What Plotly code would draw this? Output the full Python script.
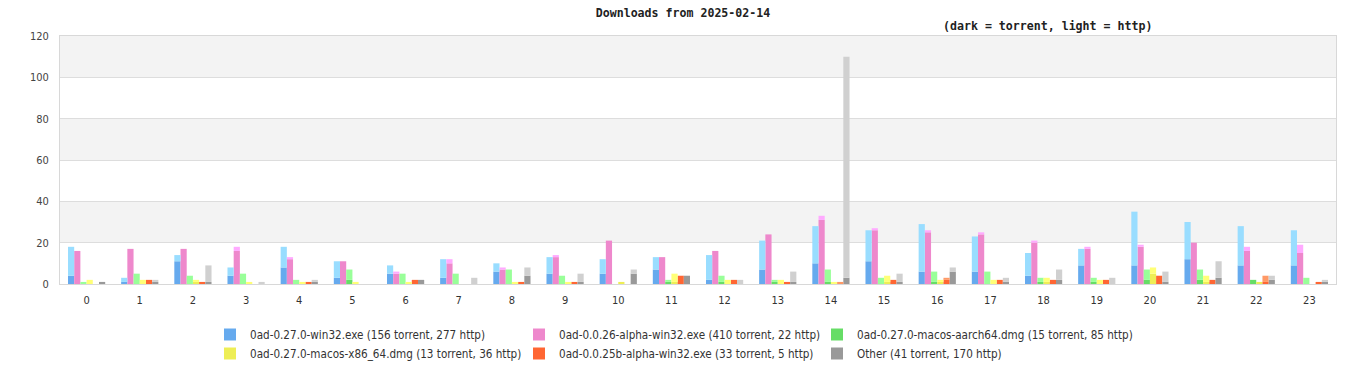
import plotly.graph_objects as go

hours = list(range(24))

series_names = [
    "0ad-0.27.0-win32.exe (156 torrent, 277 http)",
    "0ad-0.0.26-alpha-win32.exe (410 torrent, 22 http)",
    "0ad-0.27.0-macos-aarch64.dmg (15 torrent, 85 http)",
    "0ad-0.27.0-macos-x86_64.dmg (13 torrent, 36 http)",
    "0ad-0.0.25b-alpha-win32.exe (33 torrent, 5 http)",
    "Other (41 torrent, 170 http)",
]

win32_torrent = [4, 1, 11, 4, 8, 3, 5, 3, 6, 5, 5, 7, 2, 7, 10, 11, 6, 6, 4, 9, 9, 12, 9, 9]
win32_http = [14, 2, 3, 4, 10, 8, 4, 9, 4, 8, 7, 6, 12, 14, 18, 15, 23, 17, 11, 8, 26, 18, 19, 17]

a26_torrent = [16, 17, 17, 16, 12, 11, 5, 10, 7, 13, 21, 13, 16, 24, 31, 26, 25, 24, 20, 17, 18, 20, 16, 15]
a26_http = [0, 0, 0, 2, 1, 0, 1, 2, 1, 1, 0, 0, 0, 0, 2, 1, 1, 1, 1, 1, 1, 0, 2, 4]

arm_torrent = [0, 0, 0, 0, 0, 2, 0, 0, 0, 0, 0, 1, 1, 1, 1, 0, 1, 0, 1, 1, 2, 2, 2, 0]
arm_http = [1, 5, 4, 5, 2, 5, 5, 5, 7, 4, 0, 1, 3, 1, 6, 3, 5, 6, 2, 2, 5, 5, 0, 3]

x86_torrent = [0, 0, 1, 0, 0, 0, 0, 0, 0, 0, 1, 1, 0, 0, 0, 1, 1, 0, 1, 0, 5, 1, 1, 0]
x86_http = [2, 2, 1, 1, 1, 1, 1, 0, 1, 1, 0, 4, 2, 2, 1, 3, 1, 2, 2, 2, 3, 3, 0, 0]

a25_torrent = [0, 2, 1, 0, 1, 0, 2, 0, 1, 1, 0, 4, 2, 1, 0, 2, 2, 2, 2, 2, 4, 2, 1, 1]
a25_http = [0, 0, 0, 0, 0, 0, 0, 0, 0, 0, 0, 0, 0, 0, 1, 0, 1, 0, 0, 0, 0, 0, 3, 0]

other_torrent = [1, 1, 1, 0, 1, 0, 2, 0, 4, 1, 5, 4, 0, 1, 3, 1, 6, 1, 2, 0, 1, 3, 2, 1]
other_http = [0, 1, 8, 1, 1, 0, 0, 3, 4, 4, 2, 0, 2, 5, 107, 4, 2, 2, 5, 3, 5, 8, 2, 1]

y_ticks = [0, 20, 40, 60, 80, 100, 120]

torrent = [win32_torrent, a26_torrent, arm_torrent, x86_torrent, a25_torrent, other_torrent]
http = [win32_http, a26_http, arm_http, x86_http, a25_http, other_http]
dark = ["#66aaee", "#ee88cc", "#66dd66", "#eeee55", "#ff6633", "#999999"]
light = ["#99ddff", "#ffaaff", "#99ff99", "#ffff77", "#ff9966", "#d0d0d0"]
legend_ids = ["legend", "legend2", "legend3", "legend", "legend2", "legend3"]

FONT = "DejaVu Sans Condensed, Liberation Sans, sans-serif"
MONO = "DejaVu Sans Mono, monospace"

fig = go.Figure()
for i in range(6):
    fig.add_trace(go.Bar(
        x=hours, y=torrent[i], name=series_names[i], offsetgroup=str(i),
        marker=dict(color=dark[i], line=dict(width=0)),
        legend=legend_ids[i], showlegend=True,
    ))
for i in range(6):
    fig.add_trace(go.Bar(
        x=hours, y=http[i], base=torrent[i], name=series_names[i] + " http",
        offsetgroup=str(i), marker=dict(color=light[i], line=dict(width=0)),
        legend=legend_ids[i], showlegend=False,
    ))

shapes = []
for lo in (20, 60, 100):
    shapes.append(dict(type="rect", xref="paper", x0=0, x1=1, yref="y", y0=lo, y1=lo + 20,
                       fillcolor="#f3f3f3", line=dict(width=0), layer="below"))

W, H, L, R = 1366, 380, 60, 30
PW = W - L - R
def px2x(p):
    return (p - L) / PW
def py2y(p):
    return (284 - p) / 248
def cy(p):
    return 1 - p / H

legfont = dict(family=FONT, size=11.6, color="#333333")
def leg(xpx):
    return dict(x=px2x(xpx), y=cy(320), yref="container", xanchor="left", yanchor="top",
                orientation="v", font=legfont, bgcolor="rgba(0,0,0,0)", tracegroupgap=0)

fig.update_layout(
    width=W, height=H,
    margin=dict(l=L, r=R, t=36, b=96, autoexpand=False),
    paper_bgcolor="white", plot_bgcolor="white",
    barmode="group", bargap=0.3, bargroupgap=0,
    title=dict(text="<b>Downloads from 2025-02-14</b>", x=0.5, xref="container", xanchor="center",
               y=1 - 13 / H, yref="container", yanchor="middle",
               font=dict(family=MONO, size=11.6, color="#222222")),
    annotations=[dict(text="<b>(dark = torrent, light = http)</b>", xref="paper", yref="paper",
                      x=px2x(1047.5), y=py2y(26), xanchor="center", yanchor="middle",
                      showarrow=False, font=dict(family=MONO, size=11.6, color="#222222"))],
    shapes=shapes,
    xaxis=dict(range=[-0.5, 23.5], tickmode="array", tickvals=hours, ticktext=[str(h) for h in hours],
               showgrid=False, zeroline=False, showline=True, linecolor="#d8d8d8", mirror=True,
               ticks="", tickfont=dict(family=FONT, size=11, color="#333333"), ticklabelstandoff=6),
    yaxis=dict(range=[0, 120], tickmode="array", tickvals=y_ticks, showgrid=True, gridcolor="#dddddd",
               zeroline=False, showline=True, linecolor="#d8d8d8", mirror=True, ticks="",
               tickfont=dict(family=FONT, size=11, color="#444444"), ticklabelstandoff=8),
    legend=leg(210),
    legend2=leg(519),
    legend3=leg(817),
    showlegend=True,
)

fig.write_html("out.html", config={"displayModeBar": False},
               post_script="document.body.style.margin='0';")
